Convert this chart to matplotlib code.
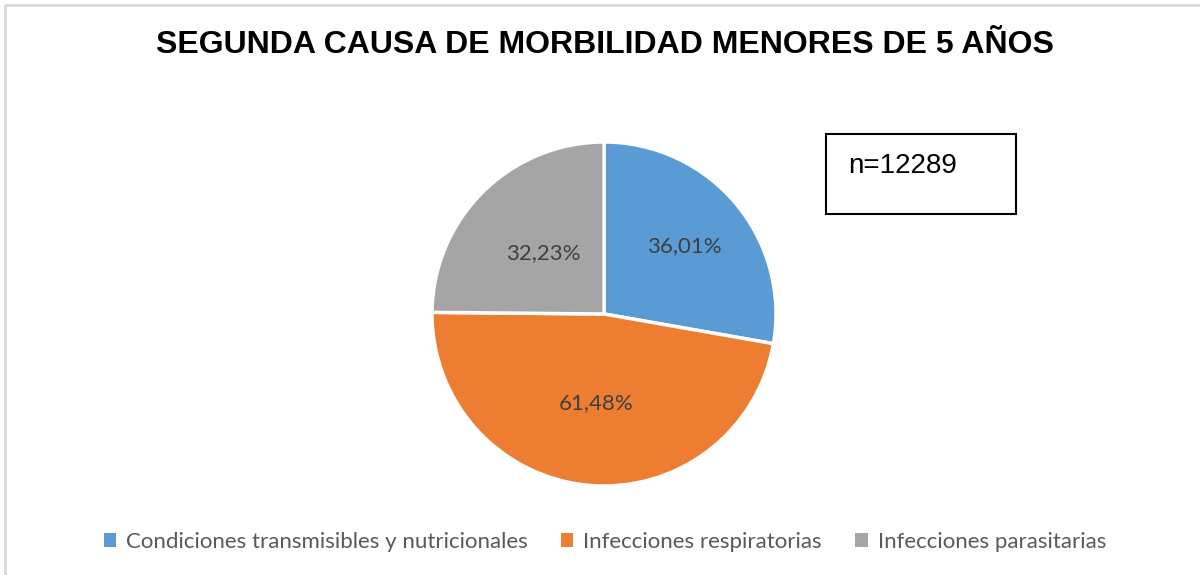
import matplotlib.pyplot as plt
from matplotlib.patches import Rectangle

# data
categorias = ["Condiciones transmisibles y nutricionales",
              "Infecciones respiratorias",
              "Infecciones parasitarias"]
porcentajes = [36.01, 61.48, 32.23]
colores = ["#5B9BD5", "#ED7D31", "#A5A5A5"]
titulo = "SEGUNDA CAUSA DE MORBILIDAD MENORES DE 5 AÑOS"
n_total = 12289

W, H = 1200, 575
cx, cy = 604, H - 314
# how far out each data label sits (fraction of radius)
dist_etiq = [0.61, 0.52, 0.50]

fig = plt.figure(figsize=(12, 5.75), dpi=100)
ax = fig.add_axes([0, 0, 1, 1])

etiquetas = [("%.2f%%" % p).replace(".", ",") for p in porcentajes]
wedges, textos = ax.pie(porcentajes, colors=colores, startangle=90, counterclock=False,
                        center=(cx, cy), radius=172, labels=etiquetas,
                        labeldistance=1.0,
                        wedgeprops=dict(edgecolor="white", linewidth=2.5),
                        textprops=dict(color="#404040", fontsize=16, family="Lato"))
for t, d in zip(textos, dist_etiq):
    x, y = t.get_position()
    t.set_position((cx + (x - cx) * d, cy + (y - cy) * d))
    t.set_ha("center")
    t.set_va("center")

ax.set_xlim(0, W)
ax.set_ylim(0, H)
ax.set_aspect("equal")
ax.axis("off")

# chart frame (only top/left visible)
ax.plot([5, 5, W + 5], [0, H - 5, H - 5], color="#d9d9d9", lw=2, clip_on=False)

ax.text(605, H - 45, titulo, fontsize=23, fontweight="bold", family="Liberation Sans",
        ha="center", va="center")

ax.add_patch(Rectangle((826, H - 214), 190, 80, fill=False, edgecolor="black", lw=1.5))
ax.text(848, H - 173, "n=%d" % n_total, fontsize=20, family="Liberation Sans",
        ha="left", va="baseline")

leg = ax.legend(wedges, categorias, loc="center", bbox_to_anchor=(605 / W, 1 - 542 / H),
                ncol=3, frameon=False, handlelength=0.55, handleheight=0.55,
                handletextpad=0.45, columnspacing=1.5,
                prop=dict(family="Lato", size=16))
for t in leg.get_texts():
    t.set_color("#595959")
for h in leg.legend_handles:
    h.set_edgecolor("none")

fig.savefig("out.png", dpi=100)
